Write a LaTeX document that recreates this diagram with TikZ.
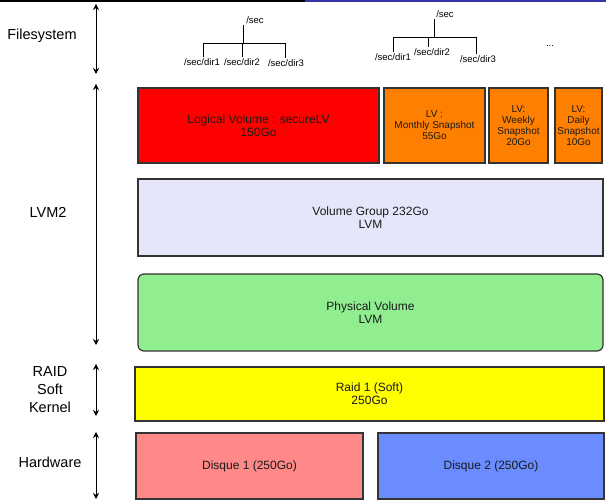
\documentclass[tikz,border=0pt]{standalone}
\usepackage{fontspec}
\setmainfont{Liberation Sans}
\usetikzlibrary{arrows.meta}
\definecolor{bordc}{HTML}{333333}
\definecolor{txtc}{HTML}{1A1A1A}
\definecolor{lvred}{HTML}{FF0000}
\definecolor{lvorange}{HTML}{FF8000}
\definecolor{vglav}{HTML}{E6E6FA}
\definecolor{pvgreen}{HTML}{90EE90}
\definecolor{raidyel}{HTML}{FFFF00}
\definecolor{d1pink}{HTML}{FF8888}
\definecolor{d2blue}{HTML}{6B8CFF}
\definecolor{topblue}{HTML}{3333AA}
\tikzset{
  box/.style={draw=bordc, line width=1.2pt, text=txtc, align=center, inner sep=1pt,
              font=\fontsize{12}{13}\selectfont},
  smallbox/.style={box, font=\fontsize{10}{11}\selectfont},
  sidelabel/.style={align=center, text=black, font=\fontsize{14.5}{18}\selectfont},
  treetext/.style={text=black, inner sep=1pt, font=\fontsize{9.5}{11}\selectfont},
  treeline/.style={draw=black, line width=0.9pt},
  layerarrow/.style={line width=0.8pt, {Stealth[length=6pt,width=6pt]}-{Stealth[length=6pt,width=6pt]}}
}
\begin{document}
\begin{tikzpicture}[x=1pt,y=-1pt]
\useasboundingbox[fill=white] (0,0) rectangle (606,502);
% top bar
\fill[black] (0,0) rectangle (305,2.2);
\fill[topblue] (305,0) rectangle (606,2.2);

% side labels
\node[sidelabel] (lfs) at (42,36) {Filesystem};
\node[sidelabel] (llvm) at (48,212) {LVM2};
\node[sidelabel] (lraid) at (50,390) {RAID\\Soft\\Kernel};
\node[sidelabel] (lhw) at (50,462) {Hardware};

% side arrows
\coordinate (fsT) at (96,4);  \coordinate (fsB) at (96,74);
\coordinate (lvT) at (96,84); \coordinate (lvB) at (96,345);
\coordinate (rdT) at (96,364);\coordinate (rdB) at (96,416);
\coordinate (hwT) at (96,432);\coordinate (hwB) at (96,499);
\draw[layerarrow] (fsT) -- (fsB);
\draw[layerarrow] (lvT) -- (lvB);
\draw[layerarrow] (rdT) -- (rdB);
\draw[layerarrow] (hwT) -- (hwB);

% boxes
\node[box, fill=lvred, minimum width=241pt, minimum height=75pt] (lv) at (258.5,125.5)
  {Logical Volume : secureLV\\150Go};
\node[smallbox, fill=lvorange, minimum width=101pt, minimum height=75pt] (lvm) at (434.5,125.5)
  {LV :\\Monthly Snapshot\\55Go};
\node[smallbox, fill=lvorange, minimum width=59pt, minimum height=75pt] (lvw) at (518.5,125.5)
  {LV:\\Weekly\\Snapshot\\20Go};
\node[smallbox, fill=lvorange, minimum width=47pt, minimum height=75pt] (lvd) at (578.5,125.5)
  {LV:\\Daily\\Snapshot\\10Go};
\node[box, fill=vglav, minimum width=465pt, minimum height=77pt] (vg) at (370.5,217.5)
  {Volume Group 232Go\\LVM};
\node[box, fill=pvgreen, rounded corners=6pt, minimum width=465pt, minimum height=77pt] (pv) at (370.5,312.5)
  {Physical Volume\\LVM};
\node[box, fill=raidyel, minimum width=469pt, minimum height=54pt] (raid) at (369.5,394)
  {Raid 1 (Soft)\\250Go};
\node[box, fill=d1pink, minimum width=227pt, minimum height=66pt] (d1) at (249.5,466)
  {Disque 1 (250Go)};
\node[box, fill=d2blue, minimum width=226pt, minimum height=66pt] (d2) at (491,466)
  {Disque 2 (250Go)};

% tree 1
\node[treetext] (r1) at (255,20) {/sec};
\node[treetext] (c11) at (202,62) {/sec/dir1};
\node[treetext] (c12) at (242,62) {/sec/dir2};
\node[treetext] (c13) at (286,63) {/sec/dir3};
\coordinate (h1) at (243,43);
\coordinate (h1l) at (203,43);
\coordinate (h1r) at (285,43);
\draw[treeline] (h1 |- r1.south) -- (h1);
\draw[treeline] (h1l) -- (h1r);
\draw[treeline] (h1l) -- (h1l |- c11.north);
\draw[treeline] (h1 -| c12) -- (c12.north);
\draw[treeline] (h1r) -- (h1r |- c13.north);

% tree 2
\node[treetext] (r2) at (445,14) {/sec};
\node[treetext] (c21) at (393,57) {/sec/dir1};
\node[treetext] (c22) at (432,52) {/sec/dir2};
\node[treetext] (c23) at (478,59) {/sec/dir3};
\coordinate (h2) at (434,37);
\coordinate (h2l) at (393,37);
\coordinate (h2r) at (476,37);
\draw[treeline] (h2 |- r2.south) -- (h2);
\draw[treeline] (h2l) -- (h2r);
\draw[treeline] (h2l) -- (h2l |- c21.north);
\draw[treeline] (428,37) -- (428,0 |- c22.north);
\draw[treeline] (h2r) -- (h2r |- c23.north);
\node[treetext] (dots) at (550,46) {...};
\end{tikzpicture}
\end{document}
